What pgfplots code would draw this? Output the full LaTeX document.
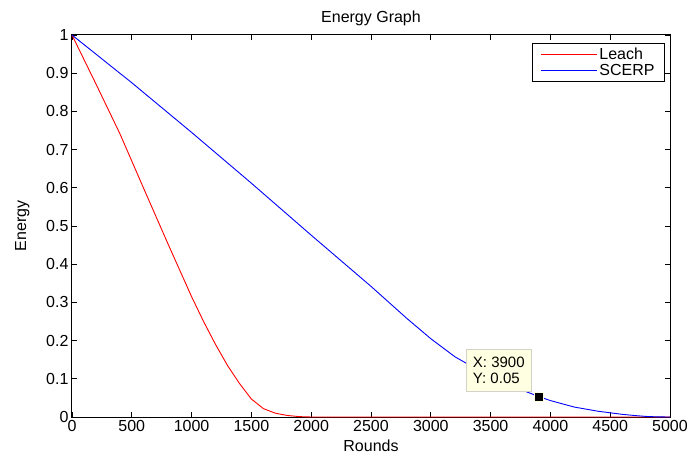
\documentclass[border=0pt]{standalone}
\usepackage{fontspec}
\setmainfont{Liberation Sans}
\usepackage{pgfplots}
\pgfplotsset{compat=1.18}
\definecolor{tipfill}{RGB}{255,255,225}
\definecolor{tipdraw}{RGB}{210,210,200}
\begin{document}
\begin{tikzpicture}
\path[use as bounding box] (-72pt,-39pt) rectangle (617pt,417pt);
\begin{axis}[
  at={(0,0)}, anchor=south west,
  scale only axis, width=598pt, height=382pt,
  xmin=0, xmax=5000, ymin=0, ymax=1,
  xtick={0,500,...,5000},
  ytick={0,0.1,0.2,0.3,0.4,0.5,0.6,0.7,0.8,0.9,1},
  yticklabels={0,0.1,0.2,0.3,0.4,0.5,0.6,0.7,0.8,0.9,1},
  xticklabel style={/pgf/number format/1000 sep={}},
  /pgf/number format/assume math mode=true,
  scaled ticks=false,
  tick align=inside, tick pos=both,
  major tick length=5pt,
  every tick/.style={black, line width=0.8pt},
  axis line style={black, line width=1pt},
  tick label style={font=\fontsize{16}{18}\selectfont},
  label style={font=\fontsize{16}{18}\selectfont},
  title style={font=\fontsize{16}{18}\selectfont},
  title={Energy Graph},
  xlabel={Rounds}, ylabel={Energy},
  xlabel style={yshift=-1pt},
  ylabel style={yshift=10pt},
  clip=false,
  legend style={at={(0.9916,0.98)}, anchor=north east, draw=black, line width=0.8pt,
    font=\fontsize{16}{18}\selectfont, inner xsep=8pt, inner ysep=3pt, row sep=-1pt},
  legend cell align=left,
  legend image code/.code={\draw[#1, line width=1pt] (0pt,0pt) -- (56pt,0pt);},
]
\addplot[red, line width=0.9pt] coordinates {
(0,1) (200,0.872) (400,0.742) (600,0.598) (800,0.455) (1000,0.315) (1100,0.25)
(1200,0.19) (1300,0.135) (1400,0.088) (1500,0.047) (1600,0.022) (1700,0.01)
(1800,0.004) (1900,0.001) (2000,0) (5000,0)};
\addlegendentry{Leach}
\addplot[blue, line width=0.9pt] coordinates {
(0,1) (500,0.875) (1000,0.745) (1500,0.612) (2000,0.476) (2500,0.342)
(2800,0.258) (3000,0.205) (3200,0.158) (3400,0.122) (3600,0.092) (3800,0.066)
(3900,0.054) (4000,0.043) (4200,0.026) (4400,0.015) (4500,0.011) (4600,0.007)
(4700,0.004) (4800,0.0015) (4900,0.0003) (5000,0)};
\addlegendentry{SCERP}
\addplot[only marks, mark=square*, mark size=4.5pt, mark options={fill=black, draw=tipfill}, forget plot] coordinates {(3900,0.054)};
\node[anchor=south east, fill=tipfill, draw=tipdraw, line width=0.8pt,
  minimum width=65pt, minimum height=42pt, align=left, inner xsep=5pt,
  font=\fontsize{15}{16}\selectfont] at (axis cs:3844,0.066) {X: 3900\\Y: 0.05};
\end{axis}
\end{tikzpicture}
\end{document}
